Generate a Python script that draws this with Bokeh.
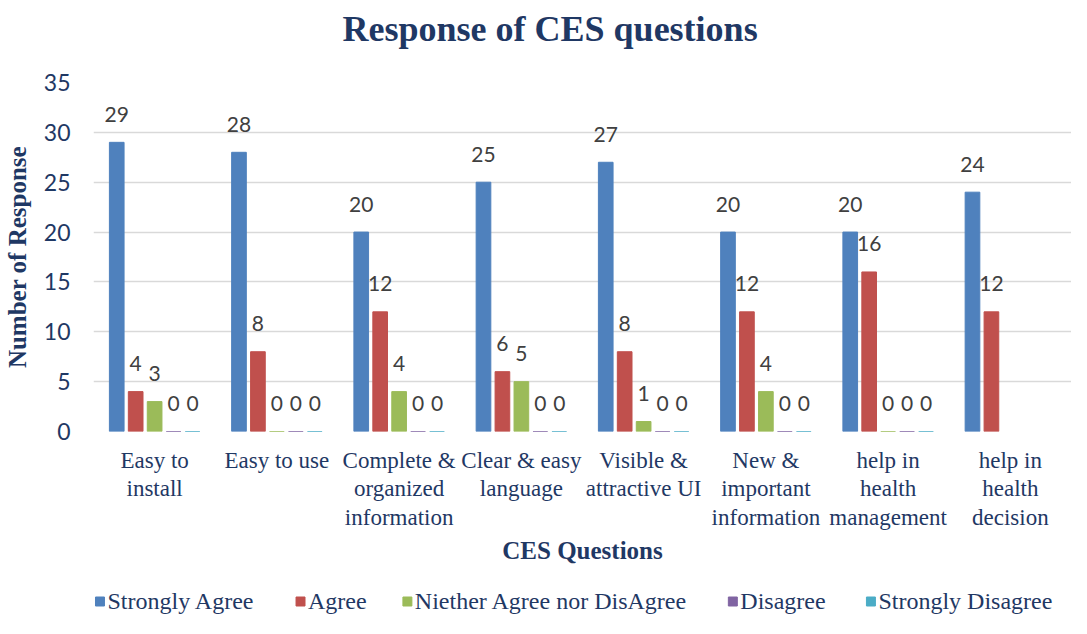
from bokeh.plotting import figure
from bokeh.layouts import column
from bokeh.models import ColumnDataSource, FixedTicker, Range1d
from bokeh.transform import dodge
from bokeh.core.properties import value
from bokeh.embed import file_html
from bokeh.resources import INLINE

# ---- data ----
questions = ["Easy to\ninstall", "Easy to use", "Complete &\norganized\ninformation",
             "Clear & easy\nlanguage", "Visible &\nattractive UI", "New &\nimportant\ninformation",
             "help in\nhealth\nmanagement", "help in\nhealth\ndecision"]
strongly_agree = [29, 28, 20, 25, 27, 20, 20, 24]
agree = [4, 8, 12, 6, 8, 12, 16, 12]
neither = [3, 0, 4, 5, 1, 4, 0, None]
disagree = [0, 0, 0, 0, 0, 0, 0, None]
strongly_disagree = [0, 0, 0, 0, 0, 0, 0, None]
series_names = ["Strongly Agree", "Agree", "Niether Agree nor DisAgree", "Disagree", "Strongly Disagree"]
series_values = [strongly_agree, agree, neither, disagree, strongly_disagree]
colors = ["#4F81BD", "#C0504D", "#9BBB59", "#8064A2", "#4BACC6"]
y_ticks = [0, 5, 10, 15, 20, 25, 30, 35]
title_text = "Response of CES questions"

NAVY = "#1F3864"
SERIF = "Liberation Serif"
W = 1071


def strip(height, xr, yr):
    f = figure(width=W, height=height, output_backend="svg", toolbar_location=None,
               x_range=xr, y_range=yr, x_axis_location=None, y_axis_location=None,
               min_border_left=0, min_border_right=0, min_border_top=0, min_border_bottom=0)
    f.xgrid.grid_line_color = None
    f.ygrid.grid_line_color = None
    f.outline_line_color = None
    return f


# ---- title strip (frame aligned with the chart frame: x in screen pixels) ----
tf = strip(50, Range1d(90, W), Range1d(50, 0))
tf.text(x=[548], y=[28], text=[title_text], text_align="center", text_baseline="middle",
        text_font=value(SERIF), text_font_size="36px", text_font_style="bold", text_color=NAVY)

# ---- main chart ----
xs = list(range(1, len(questions) + 1))
p = figure(width=W, height=533, output_backend="svg", toolbar_location=None,
           x_range=Range1d(0.5, len(questions) + 0.5), y_range=Range1d(0, 35),
           min_border_left=90, min_border_right=0, min_border_top=32, min_border_bottom=152)

slot = 0.155
bar_w = 0.12
for i, (name, vals, col) in enumerate(zip(series_names, series_values, colors)):
    off = (i - 2) * slot
    tops = [float("nan") if v is None else v for v in vals]
    labels = ["" if v is None else str(v) for v in vals]
    ly = [0 if v is None else v for v in vals]
    src = ColumnDataSource(dict(x=xs, top=tops, label=labels, ly=ly))
    p.vbar(x=dodge("x", off), top="top", width=bar_w, source=src,
           fill_color=col, line_color=col)
    p.text(x=dodge("x", off), y="ly", text="label", source=src,
           text_align="center", text_baseline="middle", y_offset=-28,
           text_font=value("Lato"), text_font_size="21px", text_color="#404040")

p.xaxis.ticker = FixedTicker(ticks=xs)
p.xaxis.major_label_overrides = {x: q for x, q in zip(xs, questions)}
p.xaxis.major_label_text_font = SERIF
p.xaxis.major_label_text_font_size = "23px"
p.xaxis.major_label_text_line_height = 1.15
p.xaxis.major_label_text_color = NAVY
p.xaxis.major_label_standoff = 10
p.xaxis.axis_label = "CES Questions"
p.xaxis.axis_label_text_font = SERIF
p.xaxis.axis_label_text_font_size = "25px"
p.xaxis.axis_label_text_font_style = "bold"
p.xaxis.axis_label_text_color = NAVY
p.xaxis.axis_label_standoff = 4
p.xaxis.axis_line_color = None
p.xaxis.major_tick_line_color = None
p.xaxis.minor_tick_line_color = None

p.yaxis.ticker = FixedTicker(ticks=y_ticks)
p.yaxis.major_label_text_font = "Lato"
p.yaxis.major_label_text_font_size = "23px"
p.yaxis.major_label_text_color = NAVY
p.yaxis.major_label_standoff = 17
p.yaxis.axis_label = "Number of Response"
p.yaxis.axis_label_text_font = SERIF
p.yaxis.axis_label_text_font_size = "25px"
p.yaxis.axis_label_text_font_style = "bold"
p.yaxis.axis_label_text_color = NAVY
p.yaxis.axis_label_standoff = 10
p.yaxis.axis_line_color = None
p.yaxis.major_tick_line_color = None
p.yaxis.minor_tick_line_color = None

p.xgrid.grid_line_color = None
p.ygrid.grid_line_color = "#D9D9D9"
p.ygrid.grid_line_width = 1.5
p.outline_line_color = None

# ---- legend strip (serif labels, laid out left to right from estimated text widths) ----
lf = strip(35, Range1d(90, W), Range1d(35, 0))
LEG_FONT = 24
sq, standoff, gap = 9, 3, 43
cursor = 92
sq_x, txt_x = [], []
for name in series_names:
    sq_x.append(cursor + sq / 2)
    txt_x.append(cursor + sq + standoff)
    cursor += sq + standoff + len(name) * 0.435 * LEG_FONT + gap
lf.rect(x=sq_x, y=[18] * len(sq_x), width=sq, height=sq, fill_color=colors, line_color=colors)
lf.text(x=txt_x, y=[17] * len(txt_x), text=series_names, text_align="left", text_baseline="middle",
        text_font=value(SERIF), text_font_size=f"{LEG_FONT}px", text_color=NAVY)

layout = column(tf, p, lf, spacing=0)
open("out.html", "w").write(file_html(layout, INLINE))
